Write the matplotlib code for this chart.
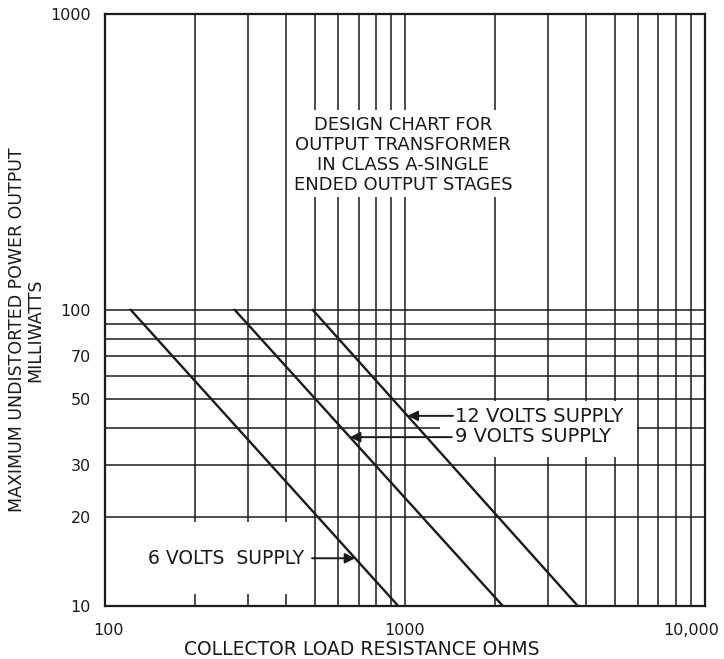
import numpy as np
import matplotlib
matplotlib.use('Agg')
import matplotlib.pyplot as plt
from matplotlib.patches import Rectangle
from matplotlib.transforms import ScaledTranslation

# Load resistance (ohms) at 100 mW and 10 mW for each supply
power_mw = [100, 10]
r_6v = [122, 950]
r_9v = [271, 2120]
r_12v = [493, 3770]

# power level where each label arrow meets its line
arrow_p_6v = 14.5
arrow_p_9v = 37.2
arrow_p_12v = 43.9

x_major = [100, 1000, 10000]
x_major_labels = ['100', '1000', '10,000']
x_minor = [200, 300, 400, 500, 600, 700, 800, 900,
           2000, 3000, 4000, 5000, 6000, 7000, 8000, 9000]
y_labeled = [10, 20, 30, 50, 70, 100, 1000]
y_minor = [40, 60, 80, 90]

ink = '#1a1a1a'

fig = plt.figure(figsize=(7.24, 6.59), dpi=100)
ax = fig.add_axes([0.1450, 0.0804, 0.8287, 0.8983])
ax.set_xscale('log')
ax.set_yscale('log')
ax.set_xlim(100, 10000)
ax.set_ylim(10, 1000)

ax.set_xticks(x_major)
ax.set_xticklabels(x_major_labels)
ax.set_xticks(x_minor, minor=True)
ax.set_xticklabels([], minor=True)
ax.set_yticks(y_labeled)
ax.set_yticklabels([str(v) for v in y_labeled])
ax.set_yticks(y_minor, minor=True)
ax.set_yticklabels([], minor=True)

ax.tick_params(which='both', length=0, labelsize=11.5, colors=ink)
ax.tick_params(axis='x', pad=12)
ax.tick_params(axis='y', pad=10)
ax.grid(True, which='both', color=ink, lw=1.1)
for s in ax.spines.values():
    s.set_linewidth(1.6)
    s.set_color(ink)

# nudge the end x labels like the original
lbls = ax.get_xticklabels()
lbls[0].set_transform(lbls[0].get_transform() + ScaledTranslation(0.04, 0, fig.dpi_scale_trans))
lbls[-1].set_transform(lbls[-1].get_transform() + ScaledTranslation(-0.14, 0, fig.dpi_scale_trans))

for r in [r_6v, r_9v, r_12v]:
    ax.plot(r, power_mw, color=ink, lw=1.7, zorder=3)

# white areas that cut the grid behind the labels
for x0, y0, w, h in [(0.0, 0.020, 0.345, 0.122),
                     (0.3117, 0.6909, 0.38, 0.1469),
                     (0.5583, 0.2517, 0.3284, 0.0946)]:
    ax.add_patch(Rectangle((x0, y0), w, h, transform=ax.transAxes,
                           facecolor='white', edgecolor='none', zorder=2))

ax.text(0.497, 0.762, 'DESIGN CHART FOR\nOUTPUT TRANSFORMER\nIN CLASS A-SINGLE\nENDED OUTPUT STAGES',
        transform=ax.transAxes, ha='center', va='center', ma='center',
        fontsize=13, color=ink, linespacing=1.15, zorder=4)

ax.text(0.583, 0.3032, '12 VOLTS SUPPLY\n9 VOLTS SUPPLY', transform=ax.transAxes,
        ha='left', va='center', ma='left', fontsize=14, color=ink,
        linespacing=1.05, zorder=4)

ax.text(0.0717, 0.0811, '6 VOLTS  SUPPLY', transform=ax.transAxes,
        ha='left', va='center', fontsize=13.5, color=ink, zorder=4)

yt = ax.get_yaxis_transform()
for r, p, tail in [(r_12v, arrow_p_12v, 0.580), (r_9v, arrow_p_9v, 0.578), (r_6v, arrow_p_6v, 0.345)]:
    # point on the line at power p (straight in log-log space)
    lx = np.interp(np.log10(p), np.log10(power_mw[::-1]), np.log10(r[::-1]))
    ax.annotate('', xy=(10 ** lx, p), xycoords='data', xytext=(tail, p), textcoords=yt,
                arrowprops=dict(arrowstyle='-|>', color=ink, lw=1.4, mutation_scale=15,
                                shrinkA=0, shrinkB=0), zorder=5)

fig.text(0.5, 0.0137, 'COLLECTOR LOAD RESISTANCE OHMS', ha='center', va='center',
         fontsize=13.5, color=ink)
fig.text(0.036, 0.499, 'MAXIMUM UNDISTORTED POWER OUTPUT\nMILLIWATTS', rotation=90,
         ha='center', va='center', ma='center', fontsize=12.5, color=ink, linespacing=1.05)

fig.savefig('out.png', dpi=100, facecolor='white')
